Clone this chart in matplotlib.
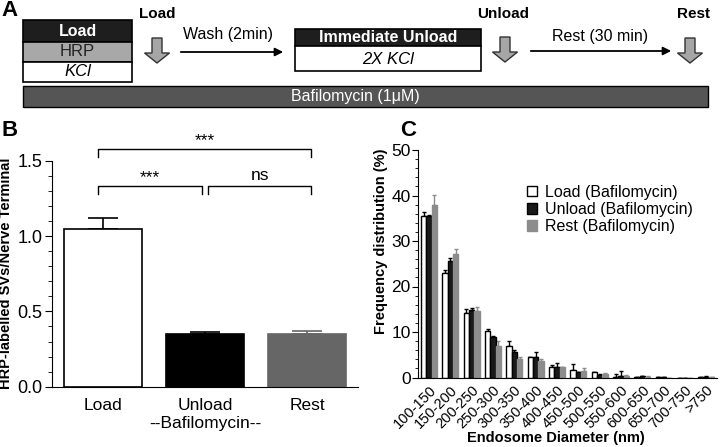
import numpy as np
import matplotlib.pyplot as plt
from matplotlib.patches import Rectangle, Polygon
from matplotlib.ticker import MultipleLocator

plt.rcParams['font.family'] = ['Liberation Sans', 'DejaVu Sans']

# panel B data
b_groups = ["Load", "Unload", "Rest"]
b_means = [1.045, 0.352, 0.348]
b_errs = [0.075, 0.008, 0.022]
b_colors = ["white", "black", "#666666"]
b_err_colors = ["black", "black", "#666666"]

# panel C data
c_bins = ["100-150", "150-200", "200-250", "250-300", "300-350", "350-400",
          "400-450", "450-500", "500-550", "550-600", "600-650", "650-700",
          "700-750", ">750"]
c_load = [35.5, 22.9, 14.1, 10.2, 7.0, 4.4, 2.35, 1.6, 1.2, 0.2, 0.1, 0.1, 0.0, 0.1]
c_load_err = [0.9, 0.7, 0.9, 0.4, 1.1, 0.1, 0.3, 1.3, 0.1, 0.5, 0.1, 0.05, 0.0, 0.1]
c_unload = [35.5, 25.6, 14.8, 8.8, 5.5, 4.4, 2.2, 1.1, 0.6, 0.4, 0.25, 0.15, 0.0, 0.2]
c_unload_err = [0.3, 0.7, 0.4, 0.4, 0.5, 1.1, 1.0, 0.2, 0.1, 1.1, 0.1, 0.05, 0.0, 0.1]
c_rest = [37.9, 27.2, 14.6, 7.0, 4.0, 3.7, 2.2, 1.5, 0.7, 0.4, 0.2, 0.0, 0.0, 0.1]
c_rest_err = [2.2, 1.0, 0.9, 1.0, 0.4, 0.3, 0.2, 0.55, 0.2, 0.2, 0.1, 0.0, 0.0, 0.1]
c_labels = ["Load (Bafilomycin)", "Unload (Bafilomycin)", "Rest (Bafilomycin)"]
c_colors = ["white", "#1a1a1a", "#8c8c8c"]
c_edge = ["black", "black", "#8c8c8c"]

fig = plt.figure(figsize=(7.2, 4.47), dpi=100)

# ---------- panel A: schematic in pixel coordinates ----------
ax_a = fig.add_axes([0, 1 - 110 / 447, 1, 110 / 447])
ax_a.set_xlim(0, 720)
ax_a.set_ylim(110, 0)
ax_a.axis('off')


def down_arrow(ax, xc, ytop):
    pts = [(xc - 5, ytop), (xc + 5, ytop), (xc + 5, ytop + 15), (xc + 12.5, ytop + 15),
           (xc, ytop + 25), (xc - 12.5, ytop + 15), (xc - 5, ytop + 15)]
    ax.add_patch(Polygon(pts, closed=True, facecolor="#a6a6a6", edgecolor="#333333", lw=1))


def row(ax, x0, x1, y0, y1, fc):
    ax.add_patch(Rectangle((x0, y0), x1 - x0, y1 - y0, facecolor=fc, edgecolor="black", lw=1.2))


# Load box
row(ax_a, 23, 132, 20, 42, "#1e1e1e")
row(ax_a, 23, 132, 42, 62, "#a8a8a8")
row(ax_a, 23, 132, 62, 82, "white")
ax_a.text(77.5, 31, "Load", color="white", fontweight="bold", fontsize=11.5, ha="center", va="center")
ax_a.text(77.5, 52, "HRP", color="#222222", fontsize=12, ha="center", va="center")
ax_a.text(77.5, 72, "KCl", color="black", fontsize=12, style="italic", ha="center", va="center")

# Immediate unload box
row(ax_a, 295, 481, 29, 46, "#1e1e1e")
row(ax_a, 295, 481, 46, 71, "white")
ax_a.text(388, 37.5, "Immediate Unload", color="white", fontweight="bold", fontsize=11.5,
          ha="center", va="center")
ax_a.text(388, 59, "2X KCl", color="black", fontsize=12, style="italic", ha="center", va="center")

# time points and arrows
for xc, ytop in [(157, 38), (505, 37), (690, 38)]:
    down_arrow(ax_a, xc, ytop)
ax_a.text(157, 14, "Load", fontweight="bold", fontsize=11, ha="center", va="center")
ax_a.text(503, 14, "Unload", fontweight="bold", fontsize=11, ha="center", va="center")
ax_a.text(693, 14, "Rest", fontweight="bold", fontsize=11, ha="center", va="center")

ax_a.annotate("", xy=(286, 52), xytext=(178, 52),
              arrowprops=dict(arrowstyle="-|>", color="black", lw=1.3, mutation_scale=12))
ax_a.annotate("", xy=(674, 51), xytext=(528, 51),
              arrowprops=dict(arrowstyle="-|>", color="black", lw=1.3, mutation_scale=12))
ax_a.text(228, 35, "Wash (2min)", fontsize=11.5, ha="center", va="center")
ax_a.text(600, 36, "Rest (30 min)", fontsize=11.5, ha="center", va="center")

# bafilomycin bar
ax_a.add_patch(Rectangle((23, 86), 685, 21, facecolor="#555555", edgecolor="black", lw=1))
ax_a.text(355, 97, "Bafilomycin (1\u03bcM)", color="white", fontsize=11.5, ha="center", va="center")

# ---------- panel B ----------
ax_b = fig.add_axes([52.3 / 720, 1 - 386.7 / 447, 305.7 / 720, 226 / 447])
xb = np.arange(len(b_groups))
for i in range(len(b_groups)):
    ax_b.bar(xb[i], b_means[i], width=0.77, color=b_colors[i], edgecolor="black" if i < 2 else "#666666",
             lw=1.2, zorder=2)
    ax_b.errorbar(xb[i], b_means[i], yerr=[[0], [b_errs[i]]], fmt="none", ecolor=b_err_colors[i],
                  elinewidth=1.2, capsize=11, capthick=1.2, zorder=1)
ax_b.set_xlim(-0.5, 2.5)
ax_b.set_ylim(0, 1.5)
ax_b.yaxis.set_major_locator(MultipleLocator(0.5))
ax_b.yaxis.set_minor_locator(MultipleLocator(0.1))
ax_b.yaxis.set_major_formatter(plt.FormatStrFormatter("%.1f"))
ax_b.set_xticks(xb)
ax_b.set_xticklabels(b_groups, fontsize=12.5)
ax_b.tick_params(axis="x", length=0, pad=8)
ax_b.tick_params(axis="y", which="major", length=5, labelsize=13, pad=2)
ax_b.tick_params(axis="y", which="minor", length=3)
for s in ["top", "right"]:
    ax_b.spines[s].set_visible(False)
ax_b.set_ylabel("HRP-labelled SVs/Nerve Terminal", fontweight="bold", fontsize=10.5)
ax_b.yaxis.set_label_coords(-0.127, 0.5)
ax_b.text(1, -0.245, "--Bafilomycin--", fontsize=12.5, ha="center", va="center", clip_on=False)


def bracket(ax, x0, x1, y, leg, txt, ty):
    ax.plot([x0, x0, x1, x1], [y - leg, y, y, y - leg], color="black", lw=1, clip_on=False)
    ax.text((x0 + x1) / 2, ty, txt, fontsize=12.5, ha="center", va="center")


bracket(ax_b, -0.05, 2.04, 1.577, 0.05, "***", 1.635)
bracket(ax_b, -0.05, 0.965, 1.33, 0.05, "***", 1.385)
bracket(ax_b, 1.03, 2.04, 1.33, 0.05, "ns", 1.40)

# ---------- panel C ----------
ax_c = fig.add_axes([418.3 / 720, 1 - 377.5 / 447, 298.7 / 720, 227.5 / 447])
xc = np.arange(len(c_bins))
w = 0.25
series = [(c_load, c_load_err), (c_unload, c_unload_err), (c_rest, c_rest_err)]
for k, (vals, errs) in enumerate(series):
    pos = xc + (k - 1) * w
    ax_c.bar(pos, vals, width=w, color=c_colors[k], edgecolor=c_edge[k] if k != 1 else "black",
             lw=1, label=c_labels[k], zorder=2)
    ax_c.errorbar(pos, vals, yerr=[np.zeros(len(errs)), errs], fmt="none",
                  ecolor="black" if k < 2 else c_colors[k], elinewidth=1, capsize=1.6,
                  capthick=1, zorder=1)
ax_c.set_xlim(-0.5, 13.5)
ax_c.set_ylim(0, 50)
ax_c.yaxis.set_major_locator(MultipleLocator(10))
ax_c.yaxis.set_minor_locator(MultipleLocator(2))
ax_c.set_xticks(xc)
ax_c.set_xticklabels(c_bins, rotation=45, ha="right", rotation_mode="anchor", fontsize=10.5)
ax_c.tick_params(axis="x", length=0, pad=4)
ax_c.tick_params(axis="y", which="major", length=4, labelsize=12.5, pad=1.5)
ax_c.tick_params(axis="y", which="minor", length=2.5)
for s in ["top", "right"]:
    ax_c.spines[s].set_visible(False)
ax_c.set_ylabel("Frequency distribution (%)", fontweight="bold", fontsize=10.5)
ax_c.yaxis.set_label_coords(-0.1, 0.6)
ax_c.set_xlabel("Endosome Diameter (nm)", fontweight="bold", fontsize=10.5)
ax_c.xaxis.set_label_coords(0.461, -0.233)
ax_c.legend(loc="upper left", bbox_to_anchor=(526.7 / 720, 1 - 184.5 / 447),
            bbox_transform=fig.transFigure, frameon=False, fontsize=11.5, borderpad=0,
            borderaxespad=0, handlelength=0.65, handleheight=0.65, handletextpad=0.5,
            labelspacing=0.15)

# panel letters
fig.text(9 / 720, 1 - 10 / 447, "A", fontsize=16, fontweight="bold", ha="center", va="center")
fig.text(10 / 720, 1 - 130 / 447, "B", fontsize=16, fontweight="bold", ha="center", va="center")
fig.text(408 / 720, 1 - 131 / 447, "C", fontsize=16, fontweight="bold", ha="center", va="center")

fig.savefig("out.png", dpi=100)
